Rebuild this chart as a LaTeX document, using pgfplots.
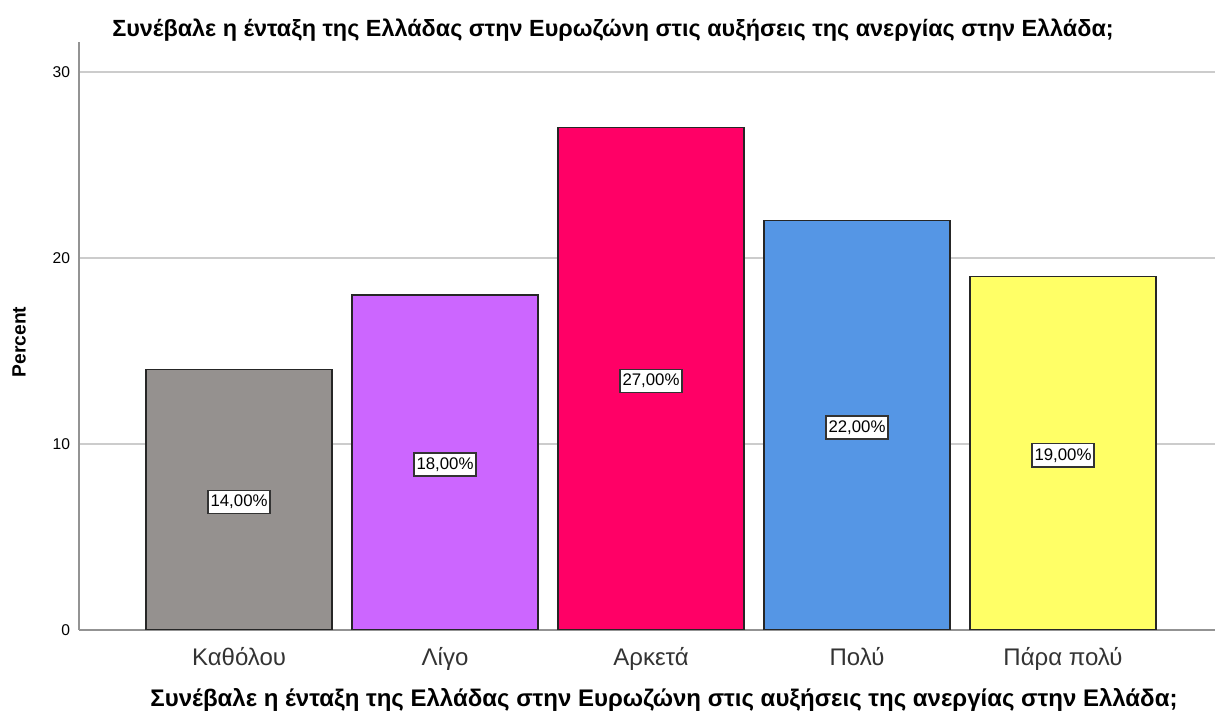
\documentclass[border=0pt]{standalone}
\usepackage{fontspec}
\setmainfont{Liberation Sans}
\usepackage{pgfplots}
\pgfplotsset{compat=1.18}
\definecolor{cgray}{RGB}{149,145,143}
\definecolor{cpurple}{RGB}{204,102,255}
\definecolor{cpink}{RGB}{255,0,102}
\definecolor{cblue}{RGB}{85,150,229}
\definecolor{cyellow}{RGB}{255,255,102}
\begin{document}
\begin{tikzpicture}[x=0.5pt,y=0.5pt]
\useasboundingbox (0,0) rectangle (1215,711);
\begin{axis}[
  at={(39.5pt,40.5pt)}, anchor=south west,
  scale only axis, width=568pt, height=294pt,
  xmin=-0.777, xmax=4.738, ymin=0, ymax=31.61,
  axis lines*=left,
  axis line style={draw=gray!85, line width=0.8pt},
  ytick={0,10,20,30},
  xtick={0,1,2,3,4},
  xticklabels={Καθόλου,Λίγο,Αρκετά,Πολύ,Πάρα πολύ},
  major tick length=0pt,
  ymajorgrids, grid style={draw=gray!40, line width=0.9pt},
  /pgf/number format/assume math mode=true,
  yticklabel style={font=\fontsize{7.8}{9}\selectfont, xshift=-1pt},
  xticklabel style={font=\fontsize{12}{14}\selectfont, text=black!80, yshift=-5pt},
  ybar, bar width=93pt, bar shift=0pt,
  every axis plot/.append style={draw=black!85, line width=0.7pt},
  nodes near coords={\pgfmathprintnumber[fixed,fixed zerofill,precision=2,use comma]{\pgfplotspointmeta}\%},
  visualization depends on={y \as \rawy},
  every node near coord/.append style={anchor=center, fill=white, draw=black!80, line width=0.7pt,
    inner xsep=1.3pt, inner ysep=2.3pt, font=\fontsize{8.4}{10}\selectfont, text=black,
    shift={(axis direction cs:0,-0.5*\rawy)}, yshift=-1pt},
]
\addplot[fill=cgray] coordinates {(0,14)};
\addplot[fill=cpurple] coordinates {(1,18)};
\addplot[fill=cpink] coordinates {(2,27)};
\addplot[fill=cblue] coordinates {(3,22)};
\addplot[fill=cyellow] coordinates {(4,19)};
\end{axis}
\node[font=\bfseries\fontsize{11.7}{14}\selectfont] at (613,681) {Συνέβαλε η ένταξη της Ελλάδας στην Ευρωζώνη στις αυξήσεις της ανεργίας στην Ελλάδα;};
\node[font=\bfseries\fontsize{12}{14}\selectfont] at (664,11) {Συνέβαλε η ένταξη της Ελλάδας στην Ευρωζώνη στις αυξήσεις της ανεργίας στην Ελλάδα;};
\node[font=\bfseries\fontsize{9.6}{11}\selectfont, rotate=90] at (19,369) {Percent};
\end{tikzpicture}
\end{document}
